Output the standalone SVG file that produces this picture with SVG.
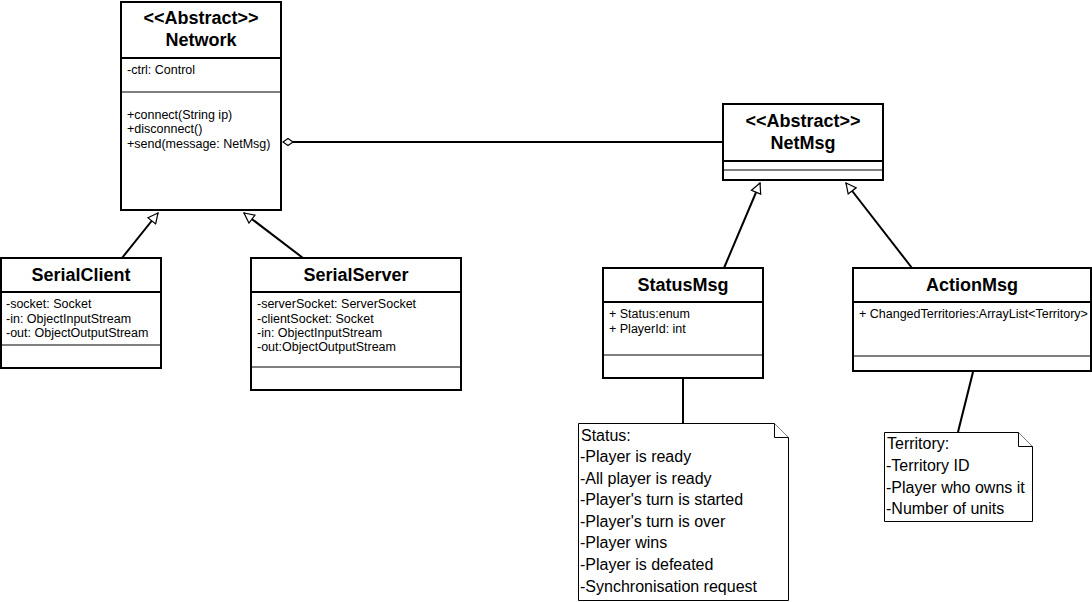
<svg xmlns="http://www.w3.org/2000/svg" width="1092" height="602" viewBox="0 0 1092 602">
<style>
.box{fill:#fff;stroke:#000;stroke-width:2}
.sep{stroke:#000;stroke-width:1;fill:none}
.t{font-family:"Liberation Sans",Arial,sans-serif;font-size:18px;font-weight:bold;text-anchor:middle;fill:#000}
.a{font-family:"Liberation Sans",Arial,sans-serif;font-size:12.5px;fill:#000}
.n{font-family:"Liberation Sans",Arial,sans-serif;font-size:16px;fill:#000}
.c{stroke:#000;stroke-width:2;fill:none}
.note{fill:#fff;stroke:#000;stroke-width:1}
</style>
<defs>
<marker id="tri" viewBox="0 0 12 12" refX="11" refY="6" markerWidth="12" markerHeight="12" markerUnits="userSpaceOnUse" orient="auto">
<path d="M1,1 L11,6 L1,11 Z" fill="#fff" stroke="#000" stroke-width="1.2"/>
</marker>
<marker id="dia" viewBox="0 0 12 10" refX="11" refY="5" markerWidth="12" markerHeight="10" markerUnits="userSpaceOnUse" orient="auto">
<path d="M1,5 L6,1.5 L11,5 L6,8.5 Z" fill="#fff" stroke="#000" stroke-width="1.2"/>
</marker>
</defs>
<g id="connectors">
<line class="c" x1="723" y1="142" x2="283" y2="142" marker-end="url(#dia)"/>
<line class="c" x1="122" y1="258" x2="158" y2="213" marker-end="url(#tri)"/>
<line class="c" x1="303" y1="258" x2="244" y2="213" marker-end="url(#tri)"/>
<line class="c" x1="724" y1="268" x2="760" y2="183" marker-end="url(#tri)"/>
<line class="c" x1="912" y1="268" x2="846" y2="183" marker-end="url(#tri)"/>
<line class="c" x1="683" y1="378" x2="683" y2="423"/>
<line class="c" x1="973" y1="372" x2="958" y2="432"/>
</g>
<g id="Network">
<rect class="box" x="121" y="2" width="160" height="208"/>
<line class="box" x1="121" y1="58" x2="281" y2="58"/>
<line class="sep" x1="121" y1="92" x2="281" y2="92"/>
<text class="t" x="201" y="24">&lt;&lt;Abstract&gt;&gt;</text>
<text class="t" x="201" y="46">Network</text>
<text class="a" x="127" y="74">-ctrl: Control</text>
<text class="a" x="127" y="119">+connect(String ip)</text>
<text class="a" x="127" y="133">+disconnect()</text>
<text class="a" x="127" y="148">+send(message: NetMsg)</text>
</g>
<g id="NetMsg">
<rect class="box" x="723" y="104" width="160" height="76"/>
<line class="box" x1="723" y1="161" x2="883" y2="161"/>
<line class="sep" x1="723" y1="170" x2="883" y2="170"/>
<text class="t" x="803" y="127">&lt;&lt;Abstract&gt;&gt;</text>
<text class="t" x="803" y="149">NetMsg</text>
</g>
<g id="SerialClient">
<rect class="box" x="1" y="258" width="160" height="110"/>
<line class="box" x1="1" y1="292" x2="161" y2="292"/>
<line class="sep" x1="1" y1="345" x2="161" y2="345"/>
<text class="t" x="81" y="281">SerialClient</text>
<text class="a" x="6" y="308">-socket: Socket</text>
<text class="a" x="6" y="323">-in: ObjectInputStream</text>
<text class="a" x="6" y="337">-out: ObjectOutputStream</text>
</g>
<g id="SerialServer">
<rect class="box" x="251" y="258" width="210" height="132"/>
<line class="box" x1="251" y1="292" x2="461" y2="292"/>
<line class="sep" x1="251" y1="367" x2="461" y2="367"/>
<text class="t" x="356" y="281">SerialServer</text>
<text class="a" x="257" y="308">-serverSocket: ServerSocket</text>
<text class="a" x="257" y="323">-clientSocket: Socket</text>
<text class="a" x="257" y="337">-in: ObjectInputStream</text>
<text class="a" x="257" y="351">-out:ObjectOutputStream</text>
</g>
<g id="StatusMsg">
<rect class="box" x="603" y="268" width="160" height="110"/>
<line class="box" x1="603" y1="302" x2="763" y2="302"/>
<line class="sep" x1="603" y1="355" x2="763" y2="355"/>
<text class="t" x="683" y="291">StatusMsg</text>
<text class="a" x="609" y="318">+ Status:enum</text>
<text class="a" x="609" y="333">+ PlayerId: int</text>
</g>
<g id="ActionMsg">
<rect class="box" x="853" y="268" width="238" height="103"/>
<line class="box" x1="853" y1="302" x2="1091" y2="302"/>
<line class="sep" x1="853" y1="356" x2="1091" y2="356"/>
<text class="t" x="972" y="291">ActionMsg</text>
<text class="a" x="859" y="318">+ ChangedTerritories:ArrayList&lt;Territory&gt;</text>
</g>
<g id="StatusNote">
<path class="note" d="M578.5,423.5 H774.5 L788.5,437.5 V600.5 H578.5 Z"/>
<path class="note" d="M774.5,423.5 V437.5 H788.5"/>
<text class="n" x="581" y="441">Status:</text>
<text class="n" x="580" y="462">-Player is ready</text>
<text class="n" x="580" y="484">-All player is ready</text>
<text class="n" x="580" y="505">-Player's turn is started</text>
<text class="n" x="580" y="527">-Player's turn is over</text>
<text class="n" x="580" y="548">-Player wins</text>
<text class="n" x="580" y="570">-Player is defeated</text>
<text class="n" x="580" y="592">-Synchronisation request</text>
</g>
<g id="TerritoryNote">
<path class="note" d="M884.5,432.5 H1018.5 L1032.5,446.5 V521.5 H884.5 Z"/>
<path class="note" d="M1018.5,432.5 V446.5 H1032.5"/>
<text class="n" x="887" y="449">Territory:</text>
<text class="n" x="886" y="471">-Territory ID</text>
<text class="n" x="886" y="493">-Player who owns it</text>
<text class="n" x="886" y="514">-Number of units</text>
</g>
</svg>
